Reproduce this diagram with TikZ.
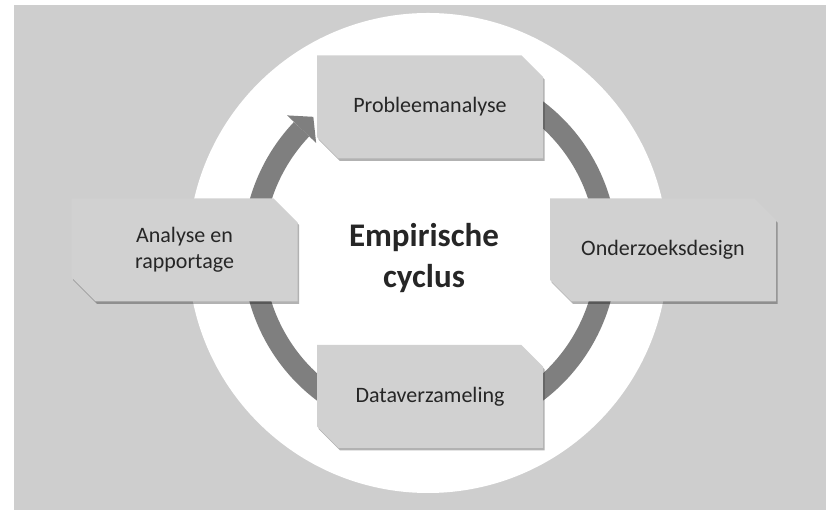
\documentclass[tikz,border=0pt]{standalone}
\usepackage{fontspec}
\setmainfont{Carlito}
\usetikzlibrary{shapes.misc,shadows,calc}
\definecolor{bggray}{RGB}{206,206,206}
\definecolor{boxgray}{RGB}{209,209,209}
\definecolor{ringgray}{RGB}{127,127,127}
\definecolor{txtgray}{RGB}{38,38,38}
\begin{document}
\begin{tikzpicture}[x=1pt,y=1pt,
  box/.style={chamfered rectangle, chamfered rectangle corners={north east,south west},
    chamfered rectangle xsep=12pt, chamfered rectangle ysep=12pt,
    fill=boxgray, draw=none, inner sep=0pt, minimum width=226pt, minimum height=103pt,
    text=txtgray, align=center, font=\fontsize{22}{26}\selectfont,
    drop shadow={shadow xshift=1.5pt, shadow yshift=-2.5pt, fill=black, opacity=0.3}},
  title/.style={text=txtgray, align=center, font=\bfseries\fontsize{33}{41}\selectfont},
  ring/.style={draw=ringgray, line width=21pt}]
\useasboundingbox (0,0) rectangle (826,510);
\fill[white] (0,0) rectangle (826,510);
\fill[bggray] (14,0) rectangle (826,505);
\fill[white] (428,257) circle (240);
\coordinate (c) at (430,259);
% ring with arrow
\draw[ring] ($(c)+(110:177)$) arc[start angle=110, end angle=-223.5, radius=177];
\fill[ringgray] ($(c)+(136.5:197)$) -- ($(c)+(136.5:157)$) -- ($(c)+(136.5:177)+(46.5:17)$) -- cycle;
% boxes
\node[box] (P) at (430,403) {Probleemanalyse};
\node[box] (O) at (663,260) {Onderzoeksdesign};
\node[box] (D) at (430,113.5) {Dataverzameling};
\node[box] (A) at (184.5,260) {Analyse en\\rapportage};
\node[title] (T) at (424,252) {Empirische\\cyclus};
\end{tikzpicture}
\end{document}
